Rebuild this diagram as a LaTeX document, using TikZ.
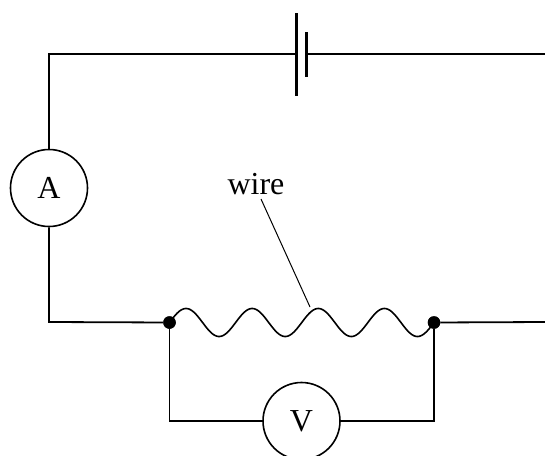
\documentclass[tikz,border=0pt]{standalone}
\usepackage{fontspec}
\setmainfont{Liberation Serif}
\begin{document}
\begin{tikzpicture}[x=1pt,y=-1pt,
  wirel/.style={line width=1.8pt,line cap=butt},
  meter/.style={draw,circle,line width=1.6pt,minimum size=77pt,inner sep=0pt,fill=white,font=\fontsize{32}{36}\selectfont},
  junction/.style={circle,fill=black,minimum size=12.5pt,inner sep=0pt},
  plate/.style={line width=2.2pt}]
\useasboundingbox (0,0) rectangle (545,455);
% coordinates
\coordinate (tl) at (49,54);
\coordinate (bl) at (49,322);
\coordinate (tr) at (545,54);
\coordinate (br) at (545,322);
\coordinate (b1t) at (296.5,13);
\coordinate (b1b) at (296.5,96);
\coordinate (b2t) at (306.5,32);
\coordinate (b2b) at (306.5,77);
\coordinate (b1) at (296.5,54);
\coordinate (b2) at (306.5,54);
\node[junction] (J1) at (169.5,322.5) {};
\node[junction] (J2) at (434,322.5) {};
\coordinate (vl) at (169.5,421);
\coordinate (vr) at (434,421);
\node[meter] (A) at (49,188) {A};
\node[meter] (V) at (301.5,421) {V};
% circuit
\draw[wirel] (b1) -- (tl) -- (A.north);
\draw[wirel] (A.south) -- (bl) -- (J1);
\draw[wirel] (b2) -- (tr);
\draw[wirel] (J2) -- (br);
\draw[wirel] (J1) -- (vl) -- (V.west);
\draw[wirel] (J2) -- (vr) -- (V.east);
\draw[plate] (b1t) -- (b1b);
\draw[plate] (b2t) -- (b2b);
% wavy wire
\draw[line width=1.6pt] plot[domain=0:264.5,samples=240,smooth] ({169.5+\x},{322.5-14*sin(\x/264.5*4*360)});
\node[junction] at (J1) {};
\node[junction] at (J2) {};
% label
\node[font=\fontsize{32}{36}\selectfont,inner sep=0pt] (lbl) at (256,184) {wire};
\coordinate (lblend) at (261,199);
\coordinate (peak) at (310,307);
\draw[line width=1pt] (lblend) -- (peak);
\end{tikzpicture}
\end{document}
